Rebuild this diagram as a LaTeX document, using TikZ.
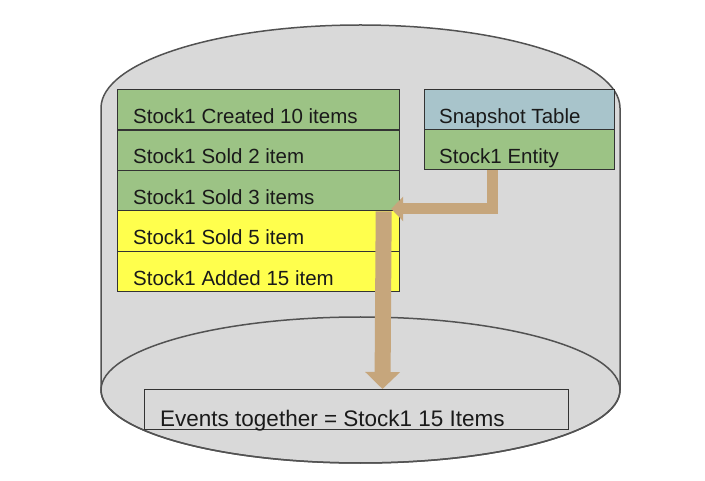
\documentclass[tikz,border=0pt]{standalone}
\usepackage{fontspec}
\setmainfont{Liberation Sans}
\usetikzlibrary{arrows.meta,calc}
\definecolor{cylgray}{HTML}{D9D9D9}
\definecolor{rowgreen}{HTML}{9CC385}
\definecolor{rowyellow}{HTML}{FFFF4D}
\definecolor{rowblue}{HTML}{A8C4CB}
\definecolor{tanc}{HTML}{C6A67C}
\definecolor{edgec}{HTML}{333333}
\definecolor{txtc}{HTML}{1A1A1A}
\tikzset{
  rowbox/.style={draw=edgec, line width=1.2pt, rectangle, anchor=north west, inner sep=0pt},
  leftrow/.style={rowbox, minimum width=282pt, minimum height=40.4pt},
  rightrow/.style={rowbox, minimum width=190pt, minimum height=40pt},
  lbl/.style={anchor=base west, inner sep=0pt, text=txtc, font=\fontsize{20.5}{24}\selectfont},
  biglbl/.style={anchor=base west, inner sep=0pt, text=txtc, font=\fontsize{22.5}{26}\selectfont},
  tanarrowA/.style={draw=tanc, line width=11pt, line join=miter, -{Triangle[width=24pt,length=12pt]}},
  tanarrowB/.style={draw=tanc, line width=16pt, -{Triangle[width=34pt,length=17pt]}},
}
\begin{document}
\begin{tikzpicture}[x=1pt,y=-1pt]
\useasboundingbox (0,0) rectangle (705,481);
% cylinder body
\filldraw[fill=cylgray, draw=edgec!85, line width=1.5pt]
  (101,390) -- (101,108)
  arc[start angle=180, end angle=360, x radius=259.5, y radius=83]
  -- (620,390)
  arc[start angle=0, end angle=180, x radius=259.5, y radius=73] -- cycle;
\draw[edgec!85, line width=1.5pt] (360.5,390) ellipse [x radius=259.5, y radius=73];
% left stack
\node[leftrow, fill=rowgreen]  (r1) at (117,89) {};
\node[leftrow, fill=rowgreen]  (r2) at (117,129.4) {};
\node[leftrow, fill=rowgreen]  (r3) at (117,169.8) {};
\node[leftrow, fill=rowyellow] (r4) at (117,210.2) {};
\node[leftrow, fill=rowyellow] (r5) at (117,250.6) {};
\node[lbl] (t1) at ($(r1.south west)+(16,-7)$) {Stock1 Created 10 items};
\node[lbl] (t2) at ($(r2.south west)+(16,-7)$) {Stock1 Sold 2 item};
\node[lbl] (t3) at ($(r3.south west)+(16,-7)$) {Stock1 Sold 3 items};
\node[lbl] (t4) at ($(r4.south west)+(16,-7)$) {Stock1 Sold 5 item};
\node[lbl] (t5) at ($(r5.south west)+(16,-7)$) {Stock1 Added 15 item};
% right stack
\node[rightrow, fill=rowblue]  (e1) at (424,89) {};
\node[rightrow, fill=rowgreen] (e2) at (424,129) {};
\node[lbl] (s1) at ($(e1.south west)+(15,-6.5)$) {Snapshot Table};
\node[lbl] (s2) at ($(e2.south west)+(15,-6.5)$) {Stock1 Entity};
% result box
\node[draw=edgec, line width=1.2pt, rectangle, anchor=north west, inner sep=0pt,
      minimum width=424pt, minimum height=40pt] (res) at (144,389) {};
\node[biglbl] (rt) at ($(res.south west)+(16,-4)$) {Events together = Stock1 15 Items};
% arrows
\coordinate (a1s) at ($(e2.south west)+(68,0)$);
\coordinate (a1t) at ($(r3.south east)+(-9,-2.5)$);
\draw[tanarrowA] (a1s) |- (a1t);
\coordinate (a2s) at ($(r3.south east)+(-16.5,0)$);
\coordinate (a2t) at ($(res.north west)+(238.5,0)$);
\draw[tanarrowB] (a2s) -- (a2t);
\end{tikzpicture}
\end{document}
